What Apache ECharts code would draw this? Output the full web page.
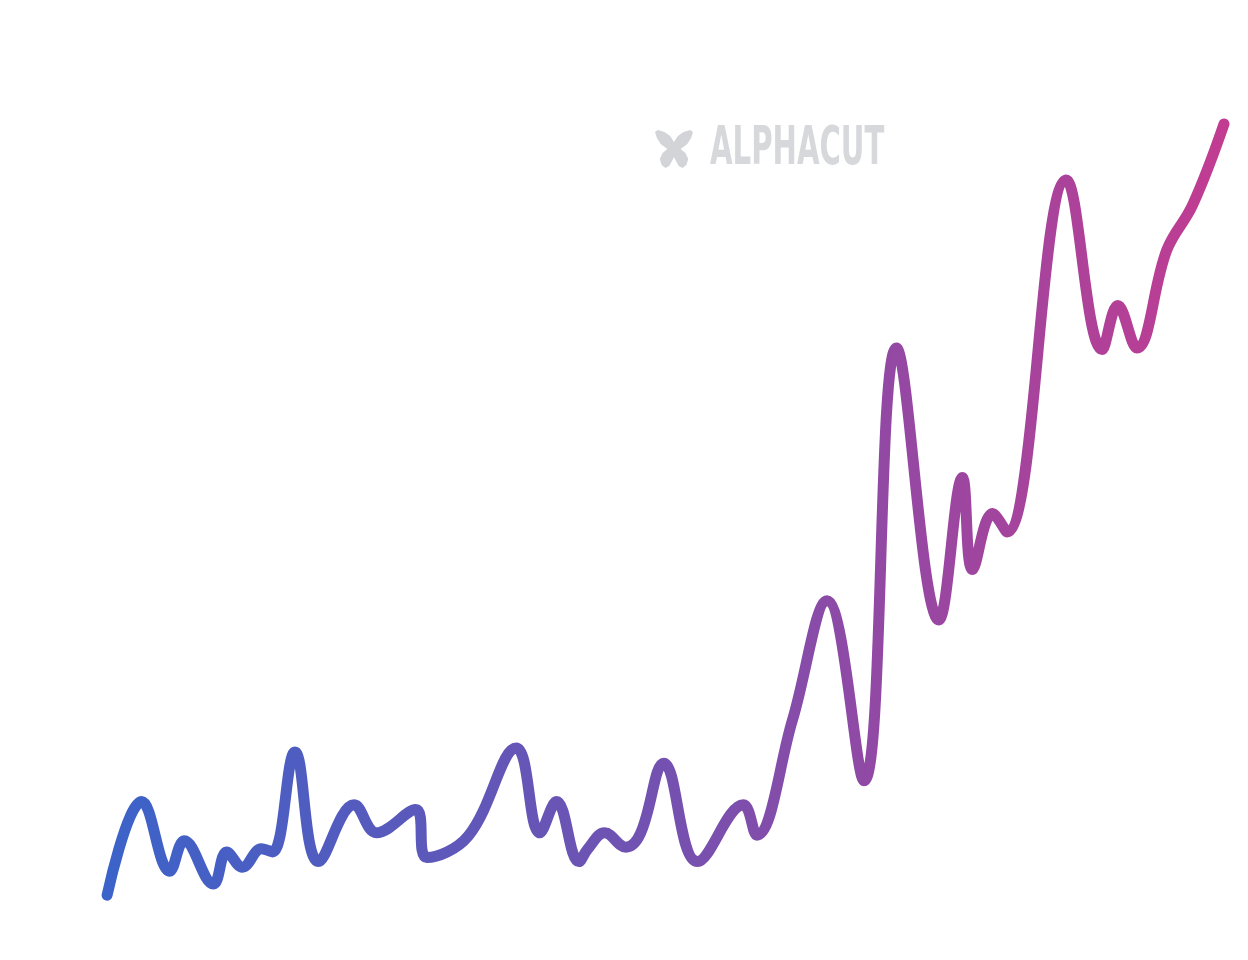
<!DOCTYPE html>
<html>
<head>
<meta charset="utf-8">
<script src="https://cdn.jsdelivr.net/npm/echarts@6/dist/echarts.min.js"></script>
<style>html,body{margin:0;padding:0;background:#fff}#c{width:1248px;height:960px}</style>
</head>
<body>
<div id="c"></div>
<script>
// x positions (0-100 scale) and values (0-100 scale)
const xs = [0.1, 3.2, 5.7, 7.0, 9.6, 10.8, 12.2, 13.9, 14.9, 16.9, 19.0, 22.2, 24.2, 27.7, 28.7, 32.4, 36.7, 38.8, 40.3, 42.3, 43.1, 44.6, 46.5, 47.8, 49.9, 52.9, 57.0, 58.2, 61.4, 64.5, 67.8, 70.7, 74.5, 76.6, 77.5, 79.3, 80.6, 85.9, 89.1, 90.5, 92.2, 94.9, 97.2, 100.0];
const values = [0.6, 12.3, 3.6, 7.4, 2.0, 6.0, 4.1, 6.4, 6.0, 18.5, 4.8, 11.9, 8.4, 11.3, 5.3, 8.0, 19.0, 8.4, 12.3, 4.8, 6.4, 8.4, 6.6, 8.3, 17.1, 4.8, 11.9, 8.1, 22.5, 37.4, 14.9, 69.0, 35.0, 52.8, 41.3, 48.3, 46.0, 90.0, 68.8, 74.3, 69.0, 81.3, 86.9, 97.0];
const brand = 'ALPHACUT';

const chart = echarts.init(document.getElementById('c'), null, {renderer: 'canvas'});
const butterfly = [[20,12],[16,6],[10,2],[3,0],[0,2],[2,8],[6,14],[13,19],[8,23],[5,29],[7,35],[11,38],[15,36],[19,29],[20,27],[21,29],[25,36],[29,38],[33,35],[35,29],[32,23],[27,19],[34,14],[38,8],[40,2],[37,0],[30,2],[24,6]];
chart.setOption({
  animation: false,
  backgroundColor: '#ffffff',
  grid: {left: 106, right: 24, top: 100, bottom: 60},
  xAxis: {type: 'value', min: 0, max: 100, show: false},
  yAxis: {type: 'value', min: 0, max: 100, show: false},
  graphic: [
    {type: 'polygon', x: 655, y: 130, scaleX: 0.95, shape: {points: butterfly}, style: {fill: '#d2d4d7'}},
    {type: 'text', x: 710, y: 123, scaleX: 0.6, style: {text: brand, font: 'bold 54px "DejaVu Sans Condensed", "DejaVu Sans", sans-serif', fill: '#d6d8db'}}
  ],
  series: [{
    type: 'line',
    data: xs.map((x, i) => [x, values[i]]),
    smooth: 0.4,
    symbol: 'none',
    lineStyle: {
      width: 11,
      cap: 'round',
      join: 'round',
      color: {
        type: 'linear', x: 0, y: 0, x2: 1, y2: 0,
        colorStops: [
          {offset: 0, color: '#3b63c9'},
          {offset: 0.5, color: '#7451b0'},
          {offset: 1, color: '#c23c91'}
        ]
      }
    }
  }]
});
</script>
</body>
</html>
